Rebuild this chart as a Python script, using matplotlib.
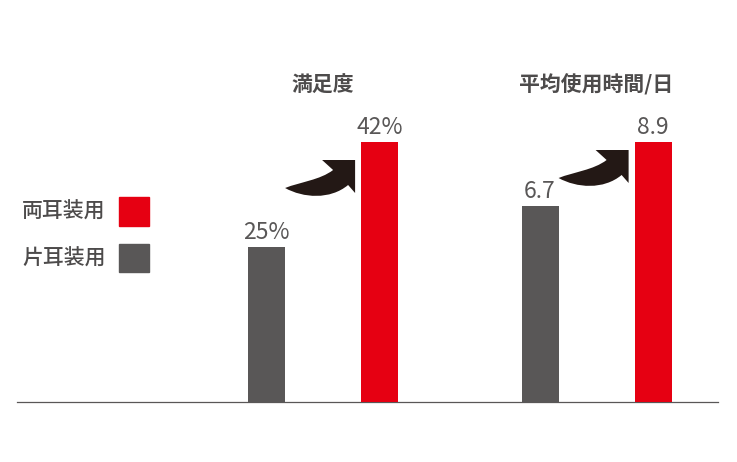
import numpy as np
import matplotlib
matplotlib.use("Agg")
import matplotlib.pyplot as plt
from matplotlib.path import Path
from matplotlib.patches import PathPatch, Patch
import matplotlib.transforms as mtransforms

plt.rcParams['font.family'] = ['Noto Sans CJK JP', 'DejaVu Sans']

groups = ['満足度', '平均使用時間/日']
series = ['片耳装用', '両耳装用']
satisfaction = [25, 42]      # %
hours = [6.7, 8.9]           # 時間/日
value_labels = [['25%', '42%'], ['6.7', '8.9']]

RED = '#e60012'
GRAY = '#595757'
TEXT = '#595757'
ARROW = '#231815'

fig = plt.figure(figsize=(7.37, 4.62), dpi=100)
W, H = 737, 462
ax = fig.add_axes([17 / W, 60 / H, 701 / W, 260 / H])
ax2 = ax.twinx()

width = 0.135
offs = [-0.2066, 0.2066]
colors = [GRAY, RED]

for k, (axis, vals) in enumerate([(ax, satisfaction), (ax2, hours)]):
    for s in range(2):
        axis.bar(k + offs[s], vals[s], width, color=colors[s], zorder=3)
        axis.annotate(value_labels[k][s], (k + offs[s], vals[s]),
                      xytext=(0, 2), textcoords='offset points',
                      ha='center', va='bottom', fontsize=16.5, color=TEXT)
    axis.set_ylim(0, max(vals))

ax.set_xlim(-1.119, 1.444)
for a in (ax, ax2):
    for side in ('top', 'right', 'left'):
        a.spines[side].set_visible(False)
    a.set_xticks([])
    a.set_yticks([])
ax2.spines['bottom'].set_visible(False)
ax.spines['bottom'].set_color(GRAY)
ax.spines['bottom'].set_linewidth(0.9)

# group titles
tr = mtransforms.blended_transform_factory(ax.transData, ax.transAxes)
for k, g in enumerate(groups):
    ax.text(k, 1 + 57 / 260, g, transform=tr, ha='center', va='center',
            fontsize=15, color='#4d4b4b', fontweight='bold')

# curved arrows (pixel shape, tip at origin, y down)
verts = [(-70, 28),
         (-55, 22), (-35, 20), (-22, 10),
         (-33, 0), (0, 0), (0, 33), (-7, 25),
         (-25, 40), (-52, 38), (-70, 28),
         (-70, 28)]
codes = [Path.MOVETO,
         Path.CURVE4, Path.CURVE4, Path.CURVE4,
         Path.LINETO, Path.LINETO, Path.LINETO, Path.LINETO,
         Path.CURVE4, Path.CURVE4, Path.CURVE4,
         Path.CLOSEPOLY]
arrow_path = Path(verts, codes)
arrow_drop = [18, 8]
for k, (axis, vals) in enumerate([(ax, satisfaction), (ax2, hours)]):
    left = k + offs[1] - width / 2
    px, py = axis.transData.transform((left, vals[1]))
    t = mtransforms.Affine2D().scale(1, -1).translate(px - 6, py - arrow_drop[k])
    fig.add_artist(PathPatch(arrow_path, transform=t, facecolor=ARROW,
                             edgecolor='none'))

# legend
handles = [Patch(color=RED, label=series[1]), Patch(color=GRAY, label=series[0])]
leg = fig.legend(handles=handles, loc='upper left',
                 bbox_to_anchor=(22 / W, 1 - 197 / H), frameon=False,
                 markerfirst=False, fontsize=15, handlelength=1.45,
                 handleheight=1.75, handletextpad=0.65, labelspacing=0.85,
                 borderpad=0, borderaxespad=0)
for txt in leg.get_texts():
    txt.set_color('#4d4b4b')
    txt.set_fontweight('medium')

fig.savefig('out.png', dpi=100)
